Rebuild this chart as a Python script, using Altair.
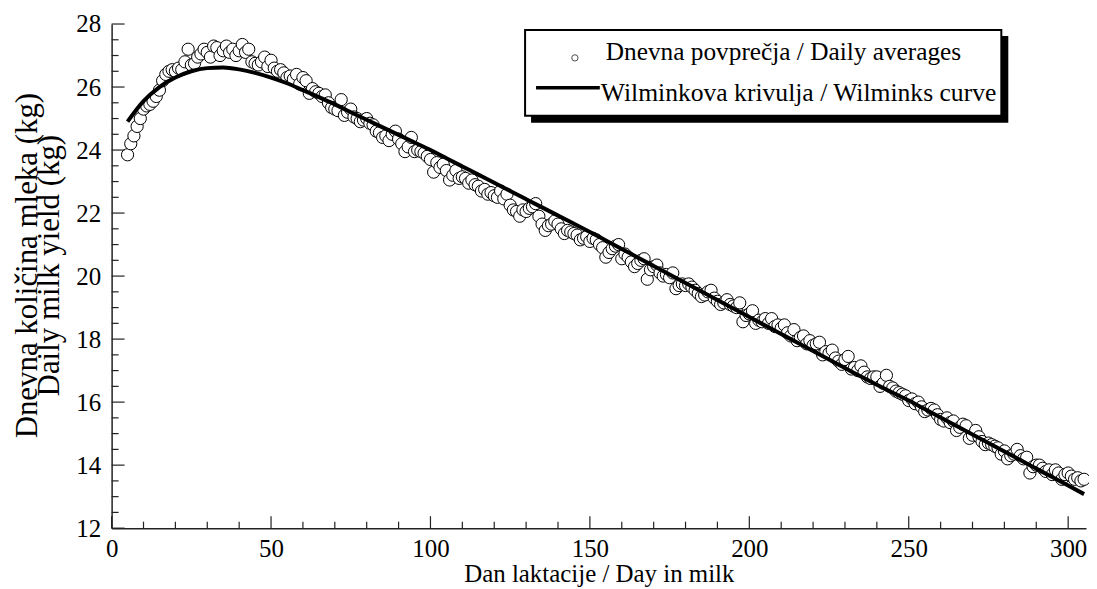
import altair as alt
import pandas as pd

# ---------------- data ----------------
first_day = 5
last_day = 305
daily_averages = [
    23.85, 24.2, 24.45, 24.75, 25.0, 25.3, 25.4, 25.45, 25.55, 25.7,
    25.9, 26.2, 26.4, 26.5, 26.55, 26.5, 26.6, 26.55, 26.8, 27.2,
    26.7, 26.75, 26.95, 27.05, 27.2, 27.1, 26.95, 27.3, 27.25, 27.0,
    27.15, 27.3, 27.1, 27.2, 27.0, 27.15, 27.35, 27.1, 27.2, 26.8,
    26.75, 26.7, 26.8, 26.95, 26.65, 26.85, 26.6, 26.5, 26.55, 26.45,
    26.3, 26.35, 26.25, 26.4, 26.1, 26.3, 26.2, 25.8, 25.95, 25.85,
    25.8, 25.7, 25.75, 25.5, 25.35, 25.3, 25.25, 25.6, 25.1, 25.2,
    25.3, 25.05, 25.0, 24.9, 24.95, 25.0, 24.85, 24.8, 24.6, 24.55,
    24.4, 24.45, 24.3, 24.5, 24.6, 24.35, 24.2, 23.95, 24.1, 24.4,
    23.95, 24.0, 23.95, 23.9, 23.8, 23.7, 23.3, 23.6, 23.45, 23.55,
    23.35, 23.05, 23.2, 23.35, 23.1, 23.15, 23.1, 22.95, 23.05, 22.9,
    22.85, 22.7, 22.75, 22.6, 22.65, 22.55, 22.5, 22.7, 22.45, 22.6,
    22.25, 22.1, 22.05, 21.9, 22.1, 22.05, 22.15, 22.2, 22.3, 21.9,
    21.65, 21.45, 21.6, 21.65, 21.75, 21.65, 21.5, 21.35, 21.45, 21.4,
    21.35, 21.3, 21.15, 21.2, 21.25, 21.1, 21.2, 21.15, 21.0, 20.9,
    20.6, 20.75, 20.87, 20.95, 21.0, 20.55, 20.7, 20.6, 20.45, 20.3,
    20.4, 20.5, 20.55, 19.9, 20.2, 20.3, 20.35, 20.1, 20.0, 20.05,
    19.95, 20.1, 19.6, 19.7, 19.75, 19.7, 19.75, 19.65, 19.55, 19.45,
    19.35, 19.4, 19.5, 19.55, 19.3, 19.2, 19.1, 19.15, 19.25, 19.1,
    19.05, 19.0, 19.15, 18.55, 18.75, 18.8, 18.9, 18.5, 18.6, 18.55,
    18.65, 18.5, 18.65, 18.4, 18.45, 18.35, 18.45, 18.2, 18.1, 18.3,
    17.95, 18.05, 18.1, 17.85, 17.95, 17.8, 17.85, 17.9, 17.5, 17.6,
    17.55, 17.65, 17.4, 17.3, 17.2, 17.35, 17.45, 17.05, 17.1, 17.0,
    17.15, 16.95, 16.8, 16.75, 16.8, 16.8, 16.5, 16.6, 16.85, 16.5,
    16.45, 16.35, 16.3, 16.25, 16.2, 16.05, 16.1, 15.95, 16.0, 15.85,
    15.7, 15.75, 15.8, 15.75, 15.6, 15.45, 15.4, 15.5, 15.35, 15.4,
    15.1, 15.2, 15.3, 15.25, 14.85, 14.95, 15.1, 14.9, 14.75, 14.65,
    14.7, 14.65, 14.6, 14.55, 14.35, 14.45, 14.2, 14.3, 14.35, 14.5,
    14.3, 14.2, 14.25, 13.75, 13.95, 14.0, 14.0, 13.9, 13.8, 13.85,
    13.7, 13.85, 13.75, 13.55, 13.7, 13.75, 13.65, 13.55, 13.6, 13.5,
    13.55,
]
days = list(range(first_day, last_day + 1))

curve_days = [5, 10, 15, 20, 25, 30, 35, 40, 45, 50, 55, 60, 65, 70, 75, 80,
              85, 90, 95, 100, 105, 110, 115, 120, 125, 130, 135, 140, 145,
              150, 155, 160, 165, 170, 175, 180, 185, 190, 195, 200, 205, 210,
              215, 220, 225, 230, 235, 240, 245, 250, 255, 260, 265, 270, 275,
              280, 285, 290, 295, 300, 305]
curve_values = [24.9, 25.55, 26.0, 26.3, 26.5, 26.6, 26.62, 26.56, 26.45, 26.3,
                26.12, 25.9, 25.68, 25.45, 25.2, 24.96, 24.72, 24.48, 24.24,
                24.0, 23.74, 23.48, 23.22, 22.96, 22.7, 22.44, 22.18, 21.92,
                21.66, 21.4, 21.13, 20.86, 20.59, 20.32, 20.05, 19.78, 19.51,
                19.24, 18.97, 18.7, 18.43, 18.16, 17.89, 17.62, 17.35, 17.08,
                16.81, 16.55, 16.3, 16.05, 15.78, 15.51, 15.24, 14.97, 14.7,
                14.43, 14.16, 13.89, 13.62, 13.35, 13.08]

x_major_ticks = [0, 50, 100, 150, 200, 250, 300]
x_minor_ticks = [10, 20, 30, 40, 60, 70, 80, 90, 110, 120, 130, 140, 160, 170,
                 180, 190, 210, 220, 230, 240, 260, 270, 280, 290]
y_major_ticks = [12, 14, 16, 18, 20, 22, 24, 26, 28]
y_minor_ticks = [12.5, 13, 13.5, 14.5, 15, 15.5, 16.5, 17, 17.5, 18.5, 19,
                 19.5, 20.5, 21, 21.5, 22.5, 23, 23.5, 24.5, 25, 25.5, 26.5,
                 27, 27.5]

x_title = "Dan laktacije / Day in milk"
y_title = ["Dnevna količina mleka (kg)", "Daily milk yield (kg)"]
legend_labels = ["Dnevna povprečja / Daily averages",
                 "Wilminkova krivulja / Wilminks curve"]

# ---------------- chart ----------------
W, H = 978, 506
FONT = "Liberation Serif"
AX = "#222222"

xs = alt.Scale(domain=[0, 305.6], nice=False, zero=False)
ys = alt.Scale(domain=[12, 28], nice=False, zero=False)

pts_df = pd.DataFrame({"day": days, "milk": daily_averages})
cur_df = pd.DataFrame({"day": curve_days, "milk": curve_values})

x_axis = alt.Axis(values=x_major_ticks, ticks=False, grid=False, domain=True,
                  domainColor=AX, domainWidth=1.5, labelFont=FONT,
                  labelFontSize=25, labelColor="black", labelPadding=8,
                  labelFlush=False, labelOverlap=False, title=x_title,
                  titleFont=FONT, titleFontSize=25, titleFontWeight="normal",
                  titleColor="black", titleX=489, titleY=54,
                  titleBaseline="alphabetic", titleAlign="center")
y_axis = alt.Axis(values=y_major_ticks, ticks=False, grid=False, domain=True,
                  domainColor=AX, domainWidth=1.5, labelFont=FONT,
                  labelFontSize=25, labelColor="black", labelPadding=11,
                  labelOverlap=False, title=y_title, titleFont=FONT,
                  titleFontSize=31, titleFontWeight="normal", titleColor="black",
                  titleLineHeight=21.5, titleAngle=270, titleX=-84, titleY=242,
                  titleBaseline="middle", titleAlign="center")


def X(field):
    return alt.X(field, scale=xs, axis=x_axis)


def Y(field):
    return alt.Y(field, scale=ys, axis=y_axis)


points = alt.Chart(pts_df).mark_point(
    shape="circle", size=150, filled=True, fill="white", stroke="black",
    strokeWidth=1, opacity=1
).encode(x=X("day:Q"), y=Y("milk:Q"))

curve = alt.Chart(cur_df).mark_line(
    color="black", strokeWidth=4, interpolate="monotone"
).encode(x=X("day:Q"), y=Y("milk:Q"))


def xticks(vals, length):
    return alt.Chart(pd.DataFrame({"day": vals})).mark_rule(
        color=AX, strokeWidth=1.2
    ).encode(x=X("day:Q"), y=alt.value(H), y2=alt.value(H - length))


def yticks(vals, length):
    return alt.Chart(pd.DataFrame({"milk": vals})).mark_rule(
        color=AX, strokeWidth=1.2
    ).encode(y=Y("milk:Q"), x=alt.value(0), x2=alt.value(length))


one = pd.DataFrame({"k": [0]})
shadow = alt.Chart(one).mark_rect(color="black").encode(
    x=alt.value(421), x2=alt.value(900), y=alt.value(12), y2=alt.value(99))
box = alt.Chart(one).mark_rect(fill="white", stroke="black", strokeWidth=2).encode(
    x=alt.value(415), x2=alt.value(893), y=alt.value(6), y2=alt.value(92))
leg_pt = alt.Chart(one).mark_point(
    shape="circle", size=40, filled=False, stroke="black", strokeWidth=1
).encode(x=alt.value(465), y=alt.value(34))
leg_ln = alt.Chart(one).mark_rule(color="black", strokeWidth=3.5).encode(
    x=alt.value(426), x2=alt.value(490), y=alt.value(64))
leg_t1 = alt.Chart(one).mark_text(
    align="left", baseline="alphabetic", font=FONT, fontSize=25.4, color="black",
    text=legend_labels[0]
).encode(x=alt.value(496), y=alt.value(36))
leg_t2 = alt.Chart(one).mark_text(
    align="left", baseline="alphabetic", font=FONT, fontSize=25.7, color="black",
    text=legend_labels[1]
).encode(x=alt.value(491), y=alt.value(77))

chart = alt.layer(
    points, curve,
    xticks(x_minor_ticks, 6.5), xticks(x_major_ticks, 12),
    yticks(y_minor_ticks, 7), yticks(y_major_ticks, 13),
    shadow, box, leg_pt, leg_ln, leg_t1, leg_t2,
).properties(
    width=W, height=H,
    background="white",
    autosize=alt.AutoSizeParams(type="none"),
    padding={"left": 104, "top": 15, "right": 3, "bottom": 60},
).configure_view(stroke=None)

chart.save("out.html", embed_options={"renderer": "svg", "actions": False})
